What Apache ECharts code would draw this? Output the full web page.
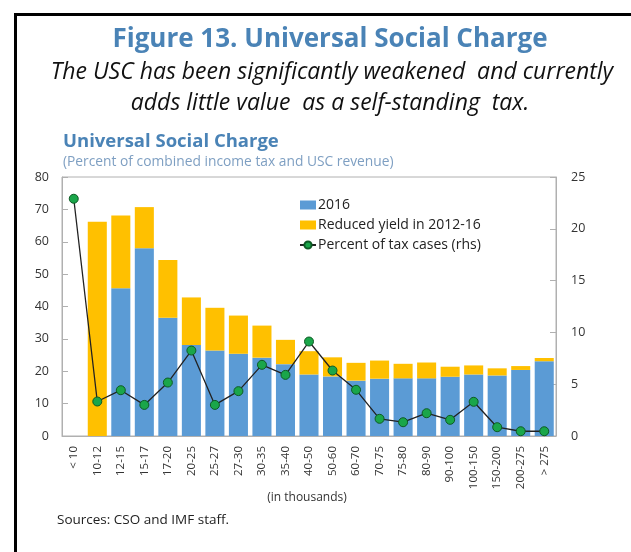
<!DOCTYPE html>
<html>
<head>
<meta charset="utf-8">
<script src="https://cdn.jsdelivr.net/npm/echarts@6/dist/echarts.min.js"></script>
<style>html,body{margin:0;padding:0;background:#fff;}#c{width:631px;height:552px;}</style>
</head>
<body>
<div id="c"></div>
<script>
const categories = ['< 10','10-12','12-15','15-17','17-20','20-25','25-27','27-30','30-35','35-40','40-50','50-60','60-70','70-75','75-80','80-90','90-100','100-150','150-200','200-275','> 275'];
const value2016 = [0, 0, 45.6, 58.0, 36.5, 28.1, 26.4, 25.4, 24.2, 22.2, 19.0, 18.4, 17.1, 17.7, 17.8, 17.8, 18.3, 19.0, 18.7, 20.4, 23.1];
const reducedYield = [0, 66.2, 22.5, 12.7, 17.9, 14.7, 13.2, 11.8, 9.9, 7.5, 7.2, 5.9, 5.5, 5.6, 4.5, 4.9, 3.1, 2.8, 2.2, 1.2, 1.0];
const taxCasesPct = [22.9, 3.33, 4.42, 3.0, 5.16, 8.25, 3.0, 4.33, 6.87, 5.9, 9.12, 6.32, 4.46, 1.66, 1.33, 2.2, 1.56, 3.3, 0.85, 0.46, 0.46];
const leftAxis = {min: 0, max: 80, interval: 10};
const rightAxis = {min: 0, max: 25, interval: 5};

const chart = echarts.init(document.getElementById('c'));
const axisGray = '#b0b0b0';
const labelFont = 'Open Sans';
chart.setOption({
  animation: false,
  backgroundColor: '#fff',
  grid: {left: 62, right: 75, top: 177, bottom: 116, show: true, borderColor: axisGray, borderWidth: 1},
  legend: {
    orient: 'vertical', left: 294, top: 193, itemGap: 6, itemWidth: 16, itemHeight: 9,
    textStyle: {fontFamily: labelFont, fontSize: 14, color: '#222', padding: [0,0,0,-3]},
    data: [
      {name: '2016', icon: 'rect'},
      {name: 'Reduced yield in 2012-16', icon: 'rect'},
      {name: 'Percent of tax cases (rhs)'}
    ]
  },
  xAxis: {
    type: 'category', data: categories,
    axisLine: {lineStyle: {color: axisGray}},
    axisTick: {show: false},
    axisLabel: {rotate: 90, interval: 0, fontFamily: labelFont, fontSize: 11.5, color: '#333', margin: 10}
  },
  yAxis: [
    {type: 'value', min: leftAxis.min, max: leftAxis.max, interval: leftAxis.interval,
     axisLine: {show: true, lineStyle: {color: axisGray}},
     axisTick: {show: true, inside: true, length: 6, lineStyle: {color: axisGray}},
     splitLine: {show: false},
     axisLabel: {fontFamily: labelFont, fontSize: 12.5, color: '#333', margin: 13}},
    {type: 'value', min: rightAxis.min, max: rightAxis.max, interval: rightAxis.interval, position: 'right',
     axisLine: {show: true, lineStyle: {color: axisGray}},
     axisTick: {show: true, inside: true, length: 6, lineStyle: {color: axisGray}},
     splitLine: {show: false},
     axisLabel: {fontFamily: labelFont, fontSize: 12.5, color: '#333', margin: 15}}
  ],
  series: [
    {name: '2016', type: 'bar', stack: 'a', data: value2016, barCategoryGap: '19%',
     itemStyle: {color: '#5b9bd5'}},
    {name: 'Reduced yield in 2012-16', type: 'bar', stack: 'a', data: reducedYield,
     itemStyle: {color: '#ffc000'}},
    {name: 'Percent of tax cases (rhs)', type: 'line', yAxisIndex: 1, data: taxCasesPct,
     symbol: 'circle', symbolSize: 9,
     lineStyle: {color: '#222', width: 1.3},
     itemStyle: {color: '#1aa64a', borderColor: '#0d5a24', borderWidth: 1}}
  ],
  graphic: [
    {type: 'line', shape: {x1: 14, y1: 14.5, x2: 631, y2: 14.5}, style: {stroke: '#000', lineWidth: 3}},
    {type: 'line', shape: {x1: 15.5, y1: 13, x2: 15.5, y2: 552}, style: {stroke: '#000', lineWidth: 3}},
    {type: 'text', x: 330, y: 40, style: {text: 'Figure 13. Universal Social Charge', font: 'bold 26px "Open Sans"', fill: '#4a83b6', align: 'center', verticalAlign: 'middle'}},
    {type: 'text', x: 332, y: 72, style: {text: 'The USC has been significantly weakened  and currently', font: 'italic 23px "Open Sans"', fill: '#111', align: 'center', verticalAlign: 'middle'}},
    {type: 'text', x: 330, y: 103, style: {text: 'adds little value  as a self-standing  tax.', font: 'italic 23px "Open Sans"', fill: '#111', align: 'center', verticalAlign: 'middle'}},
    {type: 'text', x: 63, y: 142, style: {text: 'Universal Social Charge', font: 'bold 18.5px "Open Sans"', fill: '#4a83b6', verticalAlign: 'middle'}},
    {type: 'text', x: 63, y: 162, style: {text: '(Percent of combined income tax and USC revenue)', font: '13.8px "Open Sans"', fill: '#7e9fc2', verticalAlign: 'middle'}},
    {type: 'text', x: 307, y: 498, style: {text: '(in thousands)', font: '12px "Open Sans"', fill: '#333', align: 'center', verticalAlign: 'middle'}},
    {type: 'text', x: 57, y: 520, style: {text: 'Sources: CSO and IMF staff.', font: '13.5px "Open Sans"', fill: '#222', verticalAlign: 'middle'}}
  ]
});
</script>
</body>
</html>
